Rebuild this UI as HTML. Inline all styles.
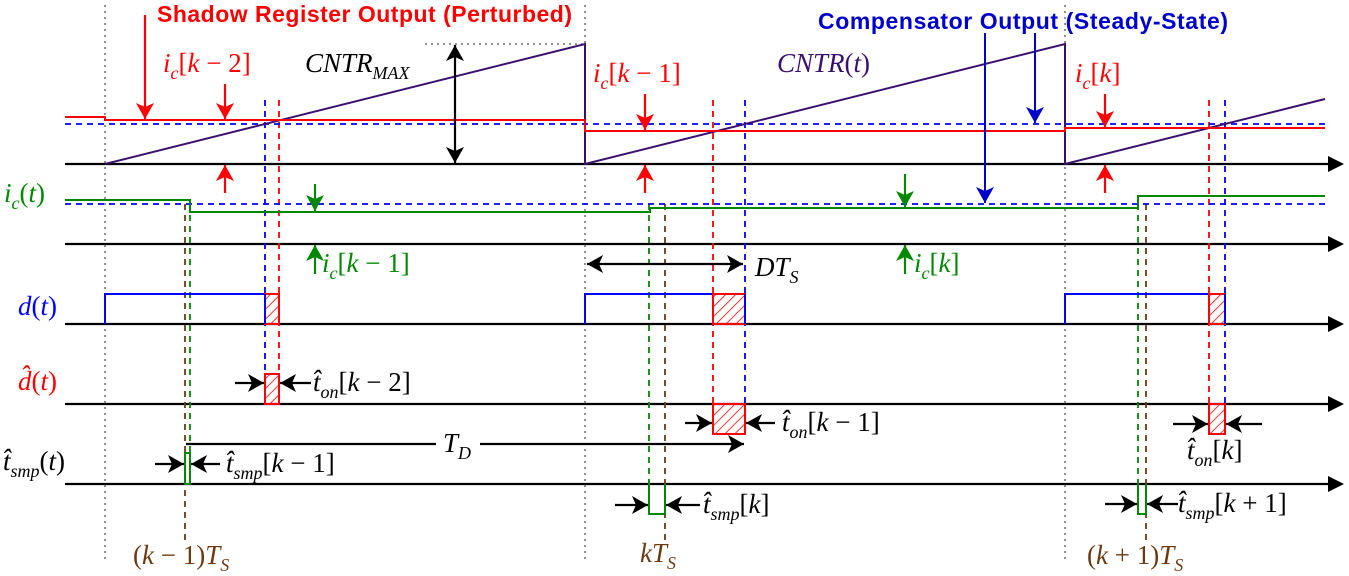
<!DOCTYPE html>
<html><head><meta charset="utf-8"><style>
html,body{margin:0;padding:0;background:#fff}
svg{display:block}
.m{font-family:"Liberation Serif",serif;font-style:italic;font-size:27px}
.s{font-size:18px}
.u{font-style:normal}
.b{font-family:"Liberation Sans",sans-serif;font-weight:bold;font-size:23px}
</style></head><body>
<svg width="1349" height="576" viewBox="0 0 1349 576" xmlns="http://www.w3.org/2000/svg">
<defs>
<marker id="ak" viewBox="-3 -4 16 18" refX="13" refY="5" markerWidth="16" markerHeight="18" orient="auto-start-reverse" markerUnits="userSpaceOnUse"><path d="M-3,-4 L13,5 L-3,14 L1,5 Z" fill="#000"/></marker>
<marker id="ar" viewBox="-3 -4 16 18" refX="13" refY="5" markerWidth="16" markerHeight="18" orient="auto-start-reverse" markerUnits="userSpaceOnUse"><path d="M-3,-4 L13,5 L-3,14 L1,5 Z" fill="#f00"/></marker>
<marker id="ab" viewBox="-3 -4 16 18" refX="13" refY="5" markerWidth="16" markerHeight="18" orient="auto-start-reverse" markerUnits="userSpaceOnUse"><path d="M-3,-4 L13,5 L-3,14 L1,5 Z" fill="#00c"/></marker>
<marker id="ag" viewBox="-3 -4 16 18" refX="13" refY="5" markerWidth="16" markerHeight="18" orient="auto-start-reverse" markerUnits="userSpaceOnUse"><path d="M-3,-4 L13,5 L-3,14 L1,5 Z" fill="#080"/></marker>
<marker id="ax" viewBox="0 -3 16 16" refX="0" refY="5" markerWidth="16" markerHeight="16" orient="auto" markerUnits="userSpaceOnUse"><path d="M0,-3 L16,5 L0,13 Z" fill="#000"/></marker>
<pattern id="h" width="7" height="7" patternUnits="userSpaceOnUse" patternTransform="rotate(45)"><line x1="0" y1="0" x2="0" y2="7" stroke="#f00" stroke-width="1.6"/></pattern>
</defs>

<g stroke="#555" stroke-width="1.3" stroke-dasharray="2,4">
<line x1="105" y1="5" x2="105" y2="562"/><line x1="585" y1="5" x2="585" y2="562"/><line x1="1065" y1="5" x2="1065" y2="562"/>
<line x1="425" y1="44" x2="585" y2="44"/>
</g>

<g stroke="#000" stroke-width="2.2" marker-end="url(#ax)">
<line x1="65" y1="164" x2="1328" y2="164"/><line x1="65" y1="244" x2="1328" y2="244"/>
<line x1="65" y1="324" x2="1328" y2="324"/><line x1="65" y1="404" x2="1328" y2="404"/>
<line x1="65" y1="484" x2="1328" y2="484"/>
</g>

<g stroke-width="1.8" stroke-dasharray="6,5" fill="none">
<line x1="265" y1="100" x2="265" y2="374" stroke="#00f"/>
<line x1="279" y1="100" x2="279" y2="374" stroke="#f00"/>
<line x1="713" y1="100" x2="713" y2="404" stroke="#f00"/>
<line x1="745" y1="100" x2="745" y2="404" stroke="#00f"/>
<line x1="1209" y1="100" x2="1209" y2="404" stroke="#f00"/>
<line x1="1225" y1="100" x2="1225" y2="404" stroke="#00f"/>
<line x1="190" y1="204" x2="190" y2="452" stroke="#080"/>
<line x1="185" y1="204" x2="185" y2="545" stroke="#6b3a10"/>
<line x1="649" y1="204" x2="649" y2="484" stroke="#080"/>
<line x1="665" y1="204" x2="665" y2="545" stroke="#6b3a10"/>
<line x1="1138" y1="204" x2="1138" y2="484" stroke="#080"/>
<line x1="1146" y1="204" x2="1146" y2="545" stroke="#6b3a10"/>
<line x1="65" y1="124" x2="1325" y2="124" stroke="#00f"/>
<line x1="65" y1="204" x2="1325" y2="204" stroke="#00f"/>
</g>

<polyline points="105,164 585,44 585,164 1065,44 1065,164 1325,99" fill="none" stroke="#3a0f6e" stroke-width="2"/>
<polyline points="65,117 105,117 105,120 585,120 585,131 1065,131 1065,128 1325,128" fill="none" stroke="#f00" stroke-width="2"/>
<polyline points="65,200 190,200 190,212 650,212 650,208 1138,208 1138,196 1325,196" fill="none" stroke="#080" stroke-width="2"/>

<g fill="none" stroke="#00f" stroke-width="2">
<polyline points="105,324 105,294 265,294 265,324"/>
<polyline points="585,324 585,294 713,294"/>
<polyline points="1065,324 1065,294 1209,294"/>
</g>
<g fill="url(#h)" stroke="#f00" stroke-width="2">
<rect x="265" y="294" width="14" height="30"/>
<rect x="713" y="294" width="32" height="30"/>
<rect x="1209" y="294" width="16" height="30"/>
<rect x="265" y="374" width="14" height="30"/>
<rect x="713" y="404" width="32" height="30"/>
<rect x="1209" y="404" width="16" height="30"/>
</g>
<line x1="745" y1="294" x2="745" y2="324" stroke="#00f" stroke-width="2"/>
<line x1="1225" y1="294" x2="1225" y2="324" stroke="#00f" stroke-width="2"/>
<line x1="265" y1="294" x2="265" y2="324" stroke="#00f" stroke-width="2"/>
<g fill="none" stroke="#080" stroke-width="2">
<rect x="185" y="453" width="5" height="31"/>
<polyline points="649,484 649,514 665,514 665,484"/>
<polyline points="1138,484 1138,514 1146,514 1146,484"/>
</g>

<g stroke="#000" stroke-width="2.2" fill="none">
<line x1="455" y1="45" x2="455" y2="163" marker-start="url(#ak)" marker-end="url(#ak)"/>
<line x1="587" y1="264" x2="743" y2="264" marker-start="url(#ak)" marker-end="url(#ak)"/>
<line x1="186" y1="444" x2="744" y2="444" marker-end="url(#ak)"/>
<line x1="235" y1="383" x2="264" y2="383" marker-end="url(#ak)"/>
<line x1="311" y1="383" x2="280" y2="383" marker-end="url(#ak)"/>
<line x1="685" y1="423" x2="712" y2="423" marker-end="url(#ak)"/>
<line x1="775" y1="423" x2="746" y2="423" marker-end="url(#ak)"/>
<line x1="1173" y1="424" x2="1208" y2="424" marker-end="url(#ak)"/>
<line x1="1262" y1="424" x2="1226" y2="424" marker-end="url(#ak)"/>
<line x1="155" y1="464" x2="184" y2="464" marker-end="url(#ak)"/>
<line x1="220" y1="464" x2="191" y2="464" marker-end="url(#ak)"/>
<line x1="615" y1="505" x2="648" y2="505" marker-end="url(#ak)"/>
<line x1="700" y1="505" x2="666" y2="505" marker-end="url(#ak)"/>
<line x1="1105" y1="504" x2="1137" y2="504" marker-end="url(#ak)"/>
<line x1="1178" y1="504" x2="1147" y2="504" marker-end="url(#ak)"/>
</g>
<g stroke="#f00" stroke-width="2.2">
<line x1="145" y1="15" x2="145" y2="119" marker-end="url(#ar)"/>
<line x1="225" y1="84" x2="225" y2="119" marker-end="url(#ar)"/>
<line x1="225" y1="193" x2="225" y2="165" marker-end="url(#ar)"/>
<line x1="645" y1="94" x2="645" y2="130" marker-end="url(#ar)"/>
<line x1="645" y1="193" x2="645" y2="165" marker-end="url(#ar)"/>
<line x1="1105" y1="94" x2="1105" y2="127" marker-end="url(#ar)"/>
<line x1="1105" y1="193" x2="1105" y2="165" marker-end="url(#ar)"/>
</g>
<g stroke="#00c" stroke-width="2">
<line x1="985" y1="33" x2="985" y2="203" marker-end="url(#ab)"/>
<line x1="1035" y1="33" x2="1035" y2="123" marker-end="url(#ab)"/>
</g>
<g stroke="#080" stroke-width="2.2">
<line x1="315" y1="184" x2="315" y2="211" marker-end="url(#ag)"/>
<line x1="315" y1="274" x2="315" y2="245" marker-end="url(#ag)"/>
<line x1="905" y1="174" x2="905" y2="207" marker-end="url(#ag)"/>
<line x1="905" y1="274" x2="905" y2="245" marker-end="url(#ag)"/>
</g>

<text x="157" y="22" class="b" fill="#f00" textLength="415">Shadow Register Output (Perturbed)</text>
<text x="818" y="29" class="b" fill="#00c" textLength="410">Compensator Output (Steady-State)</text>

<text x="163" y="72" class="m" fill="#f00">i<tspan class="s" dy="7">c</tspan><tspan dy="-7" class="u">[</tspan>k <tspan class="u">− 2]</tspan></text>
<text x="305" y="72" class="m" fill="#000">CNTR<tspan class="s" dy="7">MAX</tspan></text>
<text x="593" y="82" class="m" fill="#f00">i<tspan class="s" dy="7">c</tspan><tspan dy="-7" class="u">[</tspan>k <tspan class="u">− 1]</tspan></text>
<text x="777" y="72" class="m" fill="#3a0f6e">CNTR<tspan class="u">(</tspan>t<tspan class="u">)</tspan></text>
<text x="1075" y="82" class="m" fill="#f00">i<tspan class="s" dy="7">c</tspan><tspan dy="-7" class="u">[</tspan>k<tspan class="u">]</tspan></text>

<text x="4" y="202" class="m" fill="#080">i<tspan class="s" dy="7">c</tspan><tspan dy="-7" class="u">(</tspan>t<tspan class="u">)</tspan></text>
<text x="322" y="272" class="m" fill="#080">i<tspan class="s" dy="7">c</tspan><tspan dy="-7" class="u">[</tspan>k <tspan class="u">− 1]</tspan></text>
<text x="914" y="272" class="m" fill="#080">i<tspan class="s" dy="7">c</tspan><tspan dy="-7" class="u">[</tspan>k<tspan class="u">]</tspan></text>
<text x="755" y="276" class="m" fill="#000">DT<tspan class="s" dy="7">S</tspan></text>

<text x="18" y="315" class="m" fill="#00f">d<tspan class="u">(</tspan>t<tspan class="u">)</tspan></text>
<text x="18" y="390" class="m" fill="#f00">d̂<tspan class="u">(</tspan>t<tspan class="u">)</tspan></text>
<text x="3" y="470" class="m" fill="#000">t̂<tspan class="s" dy="7">smp</tspan><tspan dy="-7" class="u">(</tspan>t<tspan class="u">)</tspan></text>

<text x="313" y="391" class="m">t̂<tspan class="s" dy="7">on</tspan><tspan dy="-7" class="u">[</tspan>k <tspan class="u">− 2]</tspan></text>
<text x="782" y="431" class="m">t̂<tspan class="s" dy="7">on</tspan><tspan dy="-7" class="u">[</tspan>k <tspan class="u">− 1]</tspan></text>
<text x="1187" y="459" class="m">t̂<tspan class="s" dy="7">on</tspan><tspan dy="-7" class="u">[</tspan>k<tspan class="u">]</tspan></text>
<rect x="436" y="432" width="44" height="24" fill="#fff"/>
<text x="443" y="452" class="m">T<tspan class="s" dy="7">D</tspan></text>
<text x="226" y="472" class="m">t̂<tspan class="s" dy="7">smp</tspan><tspan dy="-7" class="u">[</tspan>k <tspan class="u">− 1]</tspan></text>
<text x="703" y="513" class="m">t̂<tspan class="s" dy="7">smp</tspan><tspan dy="-7" class="u">[</tspan>k<tspan class="u">]</tspan></text>
<text x="1178" y="512" class="m">t̂<tspan class="s" dy="7">smp</tspan><tspan dy="-7" class="u">[</tspan>k <tspan class="u">+ 1]</tspan></text>

<text x="133" y="564" class="m" fill="#6b3a10"><tspan class="u">(</tspan>k <tspan class="u">− 1)</tspan>T<tspan class="s" dy="7">S</tspan></text>
<text x="640" y="562" class="m" fill="#6b3a10">kT<tspan class="s" dy="7">S</tspan></text>
<text x="1087" y="564" class="m" fill="#6b3a10"><tspan class="u">(</tspan>k <tspan class="u">+ 1)</tspan>T<tspan class="s" dy="7">S</tspan></text>
</svg>
</body></html>
